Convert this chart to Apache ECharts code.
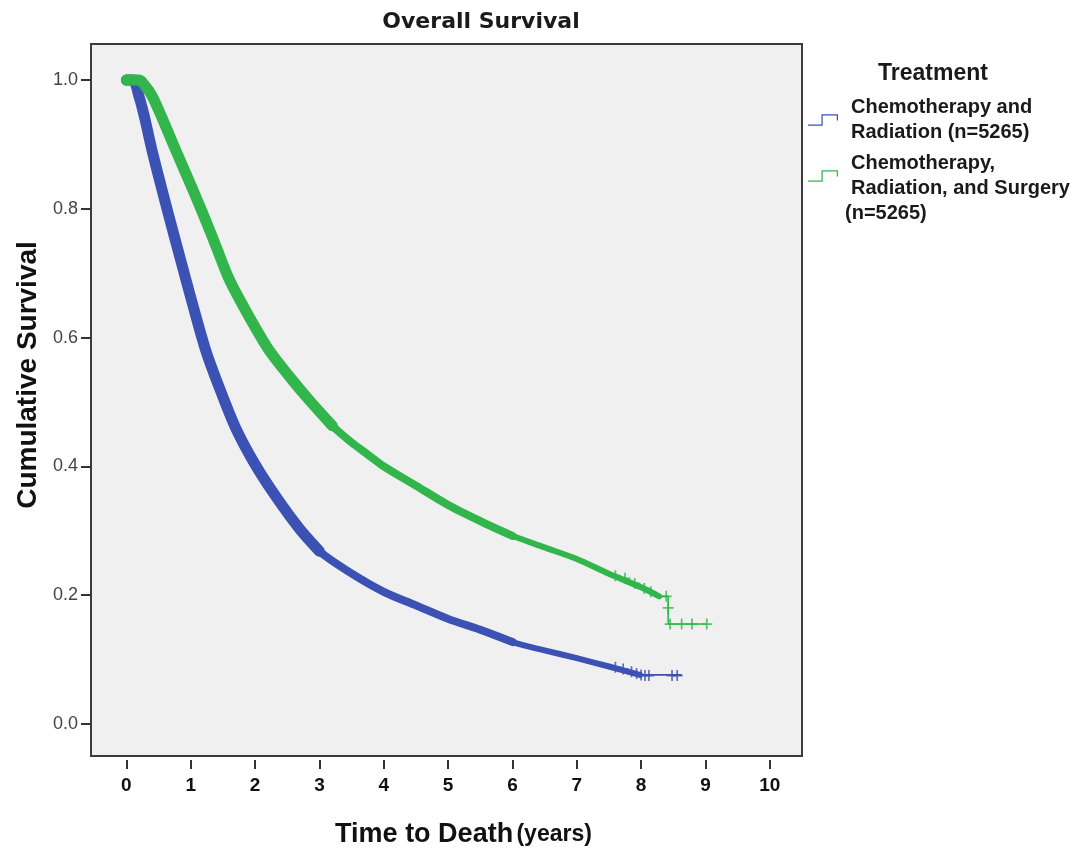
<!DOCTYPE html>
<html>
<head>
<meta charset="utf-8">
<title>Overall Survival</title>
<script src="https://cdn.jsdelivr.net/npm/echarts@6/dist/echarts.min.js"></script>
<style>
    html, body { margin: 0; padding: 0; background: #fff; }
    #chart { width: 1084px; height: 854px; }
</style>
</head>
<body>
<div id="chart"></div>
<script>
// Kaplan-Meier curves (years, cumulative survival)
var crTime = [0, 0.1, 0.2, 0.28, 0.4, 0.54, 0.67, 0.85, 1.02, 1.24, 1.48, 1.71, 2.0, 2.33, 2.69, 3.0, 3.46, 4.0, 4.5, 5.0, 5.5, 6.0, 6.5, 7.0, 7.5, 7.98];
var crSurv = [1.0, 1.0, 0.973, 0.943, 0.89, 0.835, 0.785, 0.718, 0.655, 0.578, 0.513, 0.457, 0.403, 0.352, 0.303, 0.268, 0.236, 0.205, 0.184, 0.163, 0.146, 0.127, 0.114, 0.102, 0.089, 0.076];
var crTailTime = [7.98, 8.63];
var crTailSurv = [0.076, 0.075];
var crCensorTime = [7.6, 7.72, 7.85, 7.93, 8.0, 8.06, 8.12, 8.48, 8.56];
var crCensorSurv = [0.088, 0.085, 0.081, 0.078, 0.076, 0.075, 0.075, 0.075, 0.075];

var crsTime = [0, 0.2, 0.3, 0.4, 0.56, 0.78, 1.01, 1.24, 1.4, 1.6, 1.91, 2.22, 2.53, 2.84, 3.2, 3.5, 3.73, 4.0, 4.5, 5.0, 5.5, 6.0, 6.5, 7.0, 7.5, 8.0, 8.28];
var crsSurv = [1.0, 1.0, 0.99, 0.975, 0.94, 0.888, 0.835, 0.78, 0.74, 0.69, 0.632, 0.58, 0.54, 0.503, 0.463, 0.437, 0.42, 0.4, 0.37, 0.34, 0.315, 0.292, 0.274, 0.256, 0.233, 0.212, 0.198];
var crsTailTime = [8.28, 8.42, 9.02];
var crsTailSurv = [0.198, 0.155, 0.155];
var crsCensorTime = [0, 0.06, 0.12, 7.6, 7.75, 7.9, 8.05, 8.15, 8.39, 8.42, 8.45, 8.63, 8.79, 9.02];
var crsCensorSurv = [1.0, 1.0, 1.0, 0.23, 0.226, 0.218, 0.21, 0.205, 0.198, 0.18, 0.155, 0.155, 0.155, 0.155];

var xTicks = [0, 1, 2, 3, 4, 5, 6, 7, 8, 9, 10];
var yTicks = [0, 0.2, 0.4, 0.6, 0.8, 1.0];

var blue = '#3b52b4';
var green = '#32b64b';
var crossIcon = 'path://M4.2,0H5.8V4.2H10V5.8H5.8V10H4.2V5.8H0V4.2H4.2Z';
var stepIcon = 'path://M0,11H13V1H29V7H27.8V2.2H14.2V12.2H0Z';

function pairs(t, s) {
    var out = [];
    for (var i = 0; i < t.length; i++) {
        out.push([t[i], s[i]]);
    }
    return out;
}

// curve up to a given time; thicker copies are laid over the early part,
// where the censor marks pile up
function upTo(t, s, to) {
    return pairs(t, s).filter(function(p) {
        return p[0] <= to;
    });
}

function curve(name, color, data, width) {
    return {
        name: name,
        type: 'line',
        data: data,
        color: color,
        showSymbol: false,
        smooth: 0.3,
        silent: true,
        lineStyle: { color: color, width: width, cap: 'round', join: 'round' }
    };
}

function tail(name, color, data) {
    return {
        name: name,
        type: 'line',
        step: 'end',
        data: data,
        color: color,
        showSymbol: false,
        silent: true,
        lineStyle: { color: color, width: 1.6 }
    };
}

function marks(name, color, data) {
    return {
        name: name,
        type: 'scatter',
        data: data,
        color: color,
        symbol: crossIcon,
        symbolSize: 11,
        silent: true,
        itemStyle: { color: color }
    };
}

var chart = echarts.init(document.getElementById('chart'));

var narrow = '"Liberation Sans Narrow", "Liberation Sans", Arial, sans-serif';
var sans = '"Liberation Sans", Arial, sans-serif';
var wide = '"DejaVu Sans", Verdana, sans-serif';

chart.setOption({
    animation: false,
    backgroundColor: '#ffffff',
    title: [{
        text: 'Overall Survival',
        left: 476,
        top: 6,
        textAlign: 'center',
        textStyle: { fontFamily: wide, fontSize: 22, fontWeight: 'bold', color: '#1a1a1a' }
    }, {
        text: 'Treatment',
        left: 928,
        top: 57,
        textAlign: 'center',
        textStyle: { fontFamily: sans, fontSize: 23, fontWeight: 'bold', color: '#1a1a1a' }
    }],
    legend: {
        orient: 'vertical',
        left: 803,
        top: 90,
        itemWidth: 30,
        itemHeight: 13,
        itemGap: 6,
        selectedMode: false,
        data: [{ name: 'cr', icon: stepIcon }, { name: 'crs', icon: stepIcon }],
        formatter: function(name) {
            return name === 'cr' ? 'Chemotherapy and\nRadiation (n=5265)' : 'Chemotherapy,\nRadiation, and Surgery';
        },
        textStyle: {
            fontFamily: sans,
            fontSize: 20,
            fontWeight: 'bold',
            lineHeight: 25,
            color: '#1a1a1a',
            padding: [0, 0, 0, 8]
        }
    },
    graphic: [{
        type: 'text',
        left: 845,
        top: 203,
        style: { text: '(n=5265)', font: 'bold 20px ' + sans, fill: '#1a1a1a' }
    }],
    grid: {
        left: 91,
        right: 282,
        top: 44,
        bottom: 98,
        show: true,
        backgroundColor: '#f0f0f0',
        borderColor: '#3c3c3c',
        borderWidth: 2
    },
    xAxis: {
        type: 'value',
        min: -0.55,
        max: 10.5,
        offset: 4,
        name: '{a|Time to Death} {b|(years)}',
        nameLocation: 'middle',
        nameGap: 61,
        nameTextStyle: {
            padding: [0, 0, 0, 34],
            rich: {
                a: { fontFamily: narrow, fontSize: 27, fontWeight: 'bold', color: '#111' },
                b: { fontFamily: narrow, fontSize: 23, fontWeight: 'bold', color: '#111' }
            }
        },
        axisLine: { show: false, onZero: false },
        axisTick: { show: true, length: 9, customValues: xTicks, lineStyle: { color: '#333', width: 2 } },
        axisLabel: {
            customValues: xTicks,
            margin: 16,
            fontFamily: narrow,
            fontSize: 19,
            fontWeight: 'bold',
            color: '#111'
        },
        splitLine: { show: false }
    },
    yAxis: {
        type: 'value',
        min: -0.05,
        max: 1.056,
        name: 'Cumulative Survival',
        nameLocation: 'middle',
        nameGap: 47,
        nameTextStyle: {
            fontFamily: sans,
            fontSize: 28,
            fontWeight: 'bold',
            color: '#111',
            padding: [0, 0, 0, 50]
        },
        axisLine: { show: false, onZero: false },
        axisTick: { show: true, length: 10, customValues: yTicks, lineStyle: { color: '#333', width: 2 } },
        axisLabel: {
            customValues: yTicks,
            margin: 13,
            fontFamily: sans,
            fontSize: 18,
            color: '#444',
            formatter: function(v) { return v.toFixed(1); }
        },
        splitLine: { show: false }
    },
    series: [
        curve('cr', blue, upTo(crTime, crSurv, 8.0), 6),
        curve('cr', blue, upTo(crTime, crSurv, 6.0), 8),
        curve('cr', blue, upTo(crTime, crSurv, 3.0), 11),
        tail('cr', blue, pairs(crTailTime, crTailSurv)),
        marks('cr', blue, pairs(crCensorTime, crCensorSurv)),
        curve('crs', green, upTo(crsTime, crsSurv, 8.3), 6),
        curve('crs', green, upTo(crsTime, crsSurv, 6.0), 8),
        curve('crs', green, upTo(crsTime, crsSurv, 3.2), 11),
        tail('crs', green, pairs(crsTailTime, crsTailSurv)),
        marks('crs', green, pairs(crsCensorTime, crsCensorSurv))
    ]
});
</script>
</body>
</html>
